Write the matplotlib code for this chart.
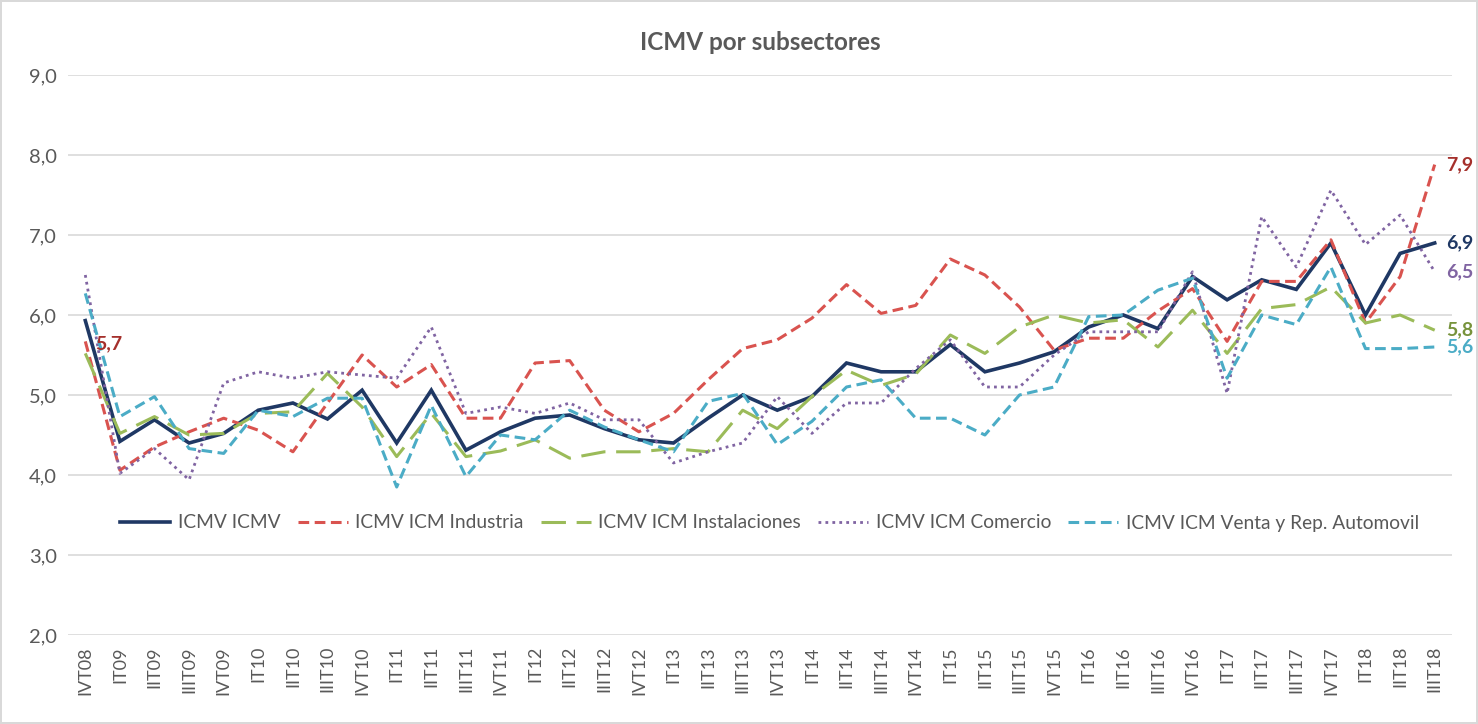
import numpy as np
import matplotlib
matplotlib.use('Agg')
from matplotlib import pyplot as plt

# trimestres
trimestres = ['IVT08', 'IT09', 'IIT09', 'IIIT09', 'IVT09', 'IT10', 'IIT10', 'IIIT10', 'IVT10',
              'IT11', 'IIT11', 'IIIT11', 'IVT11', 'IT12', 'IIT12', 'IIIT12', 'IVT12',
              'IT13', 'IIT13', 'IIIT13', 'IVT13', 'IT14', 'IIT14', 'IIIT14', 'IVT14',
              'IT15', 'IIT15', 'IIIT15', 'IVT15', 'IT16', 'IIT16', 'IIIT16', 'IVT16',
              'IT17', 'IIT17', 'IIIT17', 'IVT17', 'IT18', 'IIT18', 'IIIT18']

icmv = [5.93, 4.42, 4.69, 4.40, 4.52, 4.81, 4.90, 4.70, 5.06, 4.40, 5.06, 4.31, 4.54, 4.71,
        4.75, 4.58, 4.44, 4.40, 4.71, 5.00, 4.81, 4.98, 5.40, 5.29, 5.29, 5.63, 5.29, 5.40,
        5.54, 5.85, 6.00, 5.83, 6.48, 6.19, 6.44, 6.32, 6.90, 6.00, 6.77, 6.90]
industria = [5.67, 4.06, 4.35, 4.54, 4.71, 4.56, 4.29, 4.90, 5.50, 5.10, 5.38, 4.71, 4.71, 5.40,
             5.43, 4.81, 4.54, 4.77, 5.19, 5.58, 5.69, 5.96, 6.38, 6.02, 6.12, 6.70, 6.50, 6.10,
             5.56, 5.71, 5.71, 6.05, 6.33, 5.67, 6.42, 6.42, 6.94, 5.90, 6.48, 7.88]
instalaciones = [5.52, 4.52, 4.73, 4.50, 4.52, 4.77, 4.79, 5.27, 4.85, 4.23, 4.77, 4.23, 4.30, 4.44,
                 4.21, 4.29, 4.29, 4.33, 4.29, 4.81, 4.58, 4.98, 5.31, 5.12, 5.26, 5.75, 5.52, 5.85,
                 6.00, 5.90, 5.94, 5.60, 6.06, 5.52, 6.08, 6.13, 6.35, 5.90, 6.00, 5.81]
comercio = [6.50, 4.02, 4.33, 3.94, 5.15, 5.29, 5.21, 5.29, 5.25, 5.21, 5.85, 4.77, 4.85, 4.77,
            4.90, 4.69, 4.69, 4.15, 4.29, 4.40, 4.98, 4.52, 4.90, 4.90, 5.33, 5.69, 5.10, 5.10,
            5.50, 5.79, 5.79, 5.79, 6.54, 5.02, 7.23, 6.60, 7.56, 6.88, 7.25, 6.54]
automovil = [6.27, 4.73, 4.98, 4.33, 4.27, 4.81, 4.73, 4.96, 4.96, 3.85, 4.87, 3.98, 4.50, 4.44,
             4.81, 4.60, 4.44, 4.29, 4.92, 5.02, 4.38, 4.67, 5.10, 5.19, 4.71, 4.71, 4.50, 5.00,
             5.10, 5.98, 6.00, 6.31, 6.46, 5.21, 6.00, 5.88, 6.60, 5.58, 5.58, 5.60]

nombres = ['ICMV ICMV', 'ICMV ICM Industria', 'ICMV ICM Instalaciones',
           'ICMV ICM Comercio', 'ICMV ICM Venta y Rep. Automovil']
series = [icmv, industria, instalaciones, comercio, automovil]
colores = ['#1f3864', '#d9534f', '#9bbb59', '#8064a2', '#4bacc6']
colores_etq = ['#1f3864', '#a5302c', '#77933c', '#8064a2', '#4bacc6']
estilos = [dict(ls='-', lw=2.6),
           dict(ls=(0, (3.5, 1.8)), lw=2.2),
           dict(ls=(0, (8, 3.5)), lw=2.2),
           dict(ls=(0, (1, 1.5)), lw=2.0),
           dict(ls=(0, (3.5, 1.8)), lw=2.2)]

plt.rcParams['font.family'] = ['Lato', 'DejaVu Sans']

fig = plt.figure(figsize=(14.78, 7.24), dpi=100)
fig.patch.set_edgecolor('#d9d9d9')
fig.patch.set_linewidth(1.5)
ax = fig.add_axes([68/1478, 1-635/724, (1452-68)/1478, (635-75)/724])

x = np.arange(len(trimestres))
for s, nom, c, est in zip(series, nombres, colores, estilos):
    ax.plot(x, s, color=c, label=nom, solid_joinstyle='miter', **est)

# etiquetas finales
for s, c in zip(series, colores_etq):
    ax.annotate(f'{s[-1]:.1f}'.replace('.', ','), (x[-1], s[-1]), xytext=(8, 0),
                textcoords='offset points', color=c, fontsize=14, fontweight='bold',
                va='center', ha='left', annotation_clip=False)
ax.annotate(f'{industria[0]:.1f}'.replace('.', ','), (x[0], industria[0]), xytext=(7, -2),
            textcoords='offset points', color=colores_etq[1], fontsize=14,
            fontweight='bold', va='center', ha='left')

ax.set_xlim(-0.5, len(trimestres) - 0.5)
ax.set_ylim(2, 9)
ax.set_yticks(np.arange(2, 10, 1))
ax.set_yticklabels([f'{v:.1f}'.replace('.', ',') for v in np.arange(2, 10, 1)])
ax.set_xticks(x)
ax.set_xticklabels(trimestres, rotation=90)
ax.tick_params(axis='both', length=0, colors='#595959')
ax.tick_params(axis='y', labelsize=14.5, pad=8)
ax.tick_params(axis='x', labelsize=13, pad=8)
ax.grid(axis='y', color='#d9d9d9', lw=1.2)
ax.set_axisbelow(True)
for sp in ax.spines.values():
    sp.set_visible(False)

ax.set_title('ICMV por subsectores', fontsize=17.5, fontweight='bold', color='#595959', pad=18)

ax.legend(loc='center', bbox_to_anchor=(0.507, 0.2), ncol=5, frameon=False,
          fontsize=13.8, handlelength=2.6, columnspacing=0.9, handletextpad=0.4,
          labelcolor='#595959')

fig.savefig('out.png', dpi=100)
